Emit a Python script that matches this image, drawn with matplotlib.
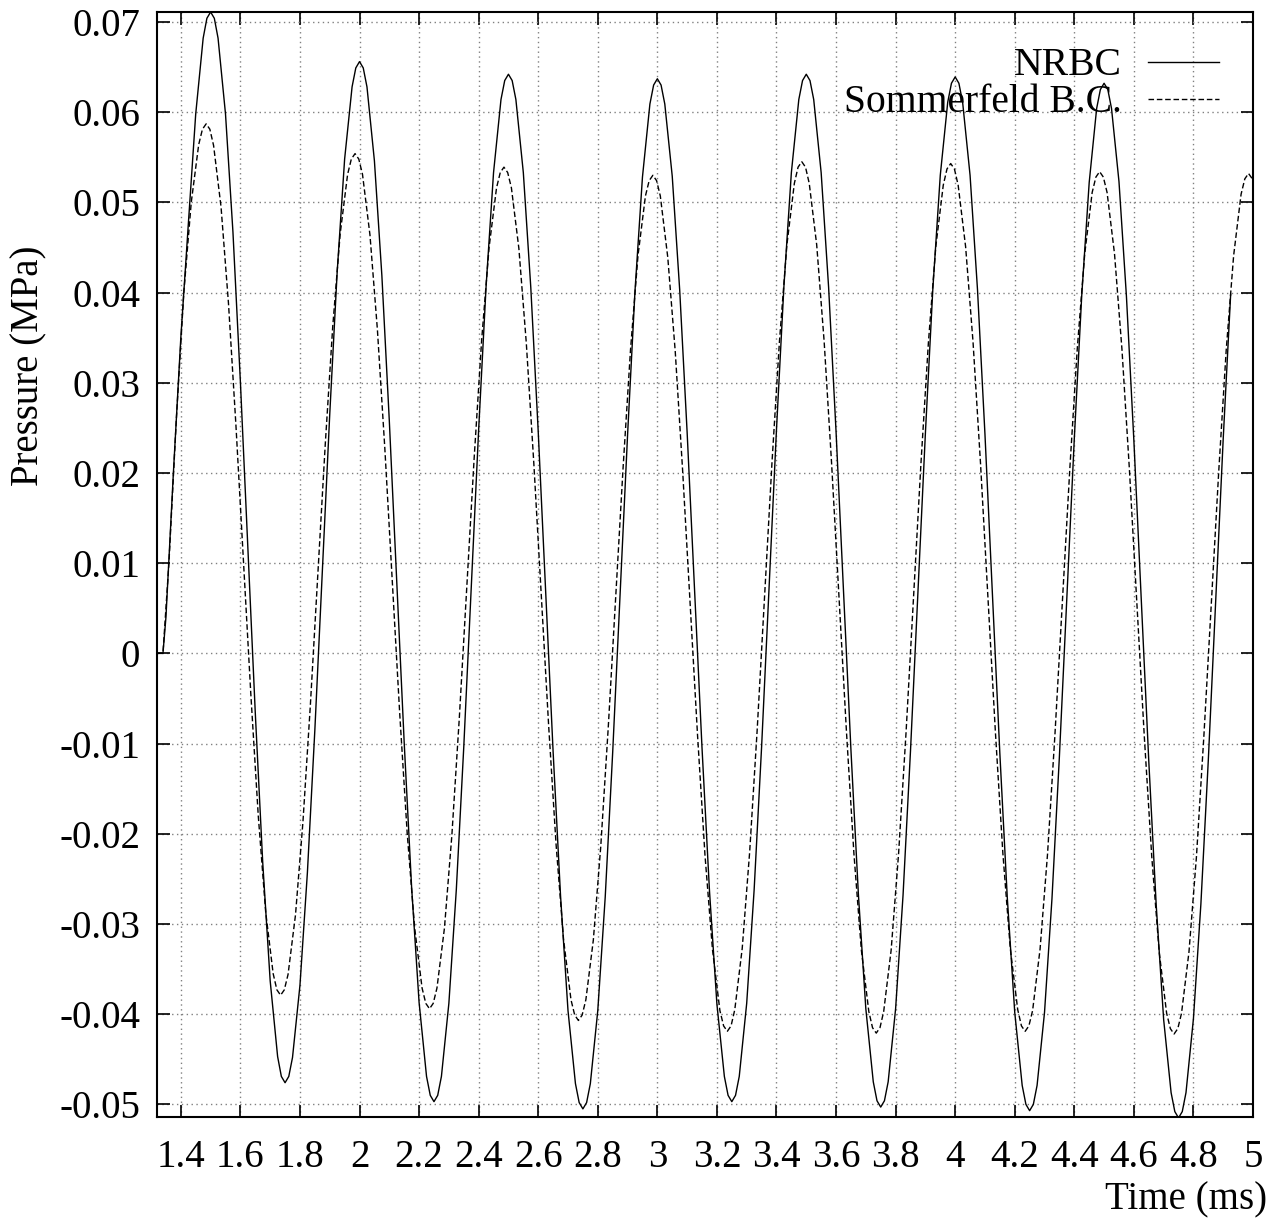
import numpy as np
import matplotlib
matplotlib.use("Agg")
import matplotlib.pyplot as plt

# NRBC pressure (MPa): two start points, then a 0.025 ms grid from 1.35 ms
nrbc_t0 = [1.32, 1.34]
nrbc_p0 = [0.0, 0.0]
nrbc_grid_start = 1.35
nrbc_p = [
    0.0040, 0.0200, 0.0350, 0.0475, 0.0598, 0.0682,
    0.0711,
    0.0682, 0.0598, 0.0467, 0.0301, 0.0118, -0.0066, -0.0232, -0.0363, -0.0447, -0.0476,
    -0.0448, -0.0368, -0.0243, -0.0085, 0.0090, 0.0265, 0.0423, 0.0548, 0.0628, 0.0656,
    0.0628, 0.0546, 0.0419, 0.0258, 0.0080, -0.0099, -0.0260, -0.0387, -0.0469, -0.0497,
    -0.0469, -0.0388, -0.0262, -0.0104, 0.0073, 0.0248, 0.0407, 0.0533, 0.0614, 0.0642,
    0.0614, 0.0533, 0.0406, 0.0246, 0.0069, -0.0109, -0.0269, -0.0396, -0.0477, -0.0505,
    -0.0477, -0.0396, -0.0270, -0.0110, 0.0066, 0.0242, 0.0402, 0.0528, 0.0609, 0.0637,
    0.0609, 0.0529, 0.0403, 0.0245, 0.0070, -0.0105, -0.0263, -0.0389, -0.0469, -0.0497,
    -0.0469, -0.0388, -0.0262, -0.0104, 0.0073, 0.0248, 0.0407, 0.0533, 0.0614, 0.0642,
    0.0614, 0.0533, 0.0406, 0.0246, 0.0070, -0.0107, -0.0267, -0.0394, -0.0475, -0.0503,
    -0.0475, -0.0394, -0.0268, -0.0108, 0.0068, 0.0244, 0.0404, 0.0530, 0.0611, 0.0639,
    0.0611, 0.0530, 0.0403, 0.0243, 0.0066, -0.0111, -0.0271, -0.0398, -0.0479, -0.0507,
    -0.0479, -0.0398, -0.0272, -0.0114, 0.0063, 0.0238, 0.0397, 0.0522, 0.0604, 0.0632,
    0.0604, 0.0523, 0.0396, 0.0236, 0.0059, -0.0119, -0.0279, -0.0406, -0.0487, -0.0515,
    -0.0487, -0.0405, -0.0278, -0.0118, 0.0060, 0.0238, 0.0398,
]
# peaks / troughs of NRBC and the value read half a grid step either side of them
nrbc_ext_t = [1.5, 1.75, 2.0, 2.25, 2.5, 2.75, 3.0, 3.25, 3.5, 3.75, 4.0, 4.25, 4.5, 4.75]
nrbc_shoulder = [0.0704, -0.0469, 0.0649, -0.0490, 0.0635, -0.0498, 0.0630,
                 -0.0490, 0.0635, -0.0496, 0.0632, -0.0500, 0.0625, -0.0508]

# Sommerfeld B.C. pressure (MPa): start points, 0.025 ms grid from 1.36 ms, end point
somm_t0 = [1.32, 1.34]
somm_p0 = [0.0, 0.0]
somm_grid_start = 1.36
somm_p = [
    0.0100, 0.0260, 0.0400, 0.0500, 0.0564,
    0.0587,
    0.0563, 0.0495, 0.0388, 0.0253, 0.0104, -0.0045, -0.0180, -0.0287, -0.0355, -0.0379,
    -0.0356, -0.0290, -0.0187, -0.0057, 0.0088, 0.0232, 0.0362, 0.0465, 0.0531, 0.0554,
    0.0531, 0.0464, 0.0359, 0.0227, 0.0080, -0.0067, -0.0199, -0.0304, -0.0371, -0.0394,
    -0.0371, -0.0305, -0.0202, -0.0072, 0.0073, 0.0217, 0.0347, 0.0450, 0.0516, 0.0539,
    0.0516, 0.0449, 0.0344, 0.0212, 0.0066, -0.0080, -0.0212, -0.0317, -0.0384, -0.0407,
    -0.0384, -0.0318, -0.0214, -0.0083, 0.0062, 0.0206, 0.0337, 0.0441, 0.0507, 0.0530,
    0.0507, 0.0439, 0.0335, 0.0202, 0.0056, -0.0091, -0.0224, -0.0328, -0.0396, -0.0419,
    -0.0395, -0.0327, -0.0220, -0.0086, 0.0063, 0.0212, 0.0346, 0.0453, 0.0521, 0.0545,
    0.0521, 0.0453, 0.0346, 0.0211, 0.0062, -0.0087, -0.0222, -0.0329, -0.0397, -0.0421,
    -0.0397, -0.0329, -0.0222, -0.0088, 0.0061, 0.0210, 0.0344, 0.0451, 0.0519, 0.0543,
    0.0519, 0.0451, 0.0345, 0.0211, 0.0062, -0.0087, -0.0221, -0.0327, -0.0395, -0.0419,
    -0.0396, -0.0328, -0.0223, -0.0090, 0.0058, 0.0205, 0.0338, 0.0443, 0.0511, 0.0534,
    0.0511, 0.0443, 0.0337, 0.0204, 0.0056, -0.0092, -0.0225, -0.0331, -0.0399, -0.0422,
    -0.0399, -0.0331, -0.0226, -0.0092, 0.0055, 0.0202, 0.0336, 0.0441, 0.0509, 0.0532,
]
somm_t1 = [5.0]
somm_p1 = [0.0525]
somm_ext_t = [1.485, 1.735, 1.985, 2.235, 2.485, 2.735, 2.985, 3.235, 3.485, 3.735,
              3.985, 4.235, 4.485, 4.735, 4.985]
somm_shoulder = [0.0581, -0.0373, 0.0548, -0.0388, 0.0533, -0.0401, 0.0524, -0.0413,
                 0.0539, -0.0415, 0.0537, -0.0413, 0.0528, -0.0416, 0.0526]

grid_step = 0.025

xticks = [1.4, 1.6, 1.8, 2.0, 2.2, 2.4, 2.6, 2.8, 3.0, 3.2, 3.4, 3.6, 3.8, 4.0,
          4.2, 4.4, 4.6, 4.8, 5.0]
xtick_labels = ['1.4', '1.6', '1.8', '2', '2.2', '2.4', '2.6', '2.8', '3', '3.2',
                '3.4', '3.6', '3.8', '4', '4.2', '4.4', '4.6', '4.8', '5']
yticks = [-0.05, -0.04, -0.03, -0.02, -0.01, 0.0, 0.01, 0.02, 0.03, 0.04, 0.05,
          0.06, 0.07]
ytick_labels = ['-0.05', '-0.04', '-0.03', '-0.02', '-0.01', '0', '0.01', '0.02',
                '0.03', '0.04', '0.05', '0.06', '0.07']


def build_series(t0, p0, start, vals, ext_t, shoulder, t1=(), p1=()):
    ext_t = np.asarray(ext_t)
    sh = np.asarray(shoulder)
    t = np.concatenate([t0, start + grid_step * np.arange(len(vals)),
                        ext_t - grid_step / 2, ext_t + grid_step / 2, t1])
    p = np.concatenate([p0, vals, sh, sh, p1])
    keep = t <= 5.0
    t, p = t[keep], p[keep]
    order = np.argsort(t, kind='stable')
    return t[order], p[order]


nrbc_t, nrbc_v = build_series(nrbc_t0, nrbc_p0, nrbc_grid_start, nrbc_p,
                              nrbc_ext_t, nrbc_shoulder)
somm_t, somm_v = build_series(somm_t0, somm_p0, somm_grid_start, somm_p,
                              somm_ext_t, somm_shoulder, somm_t1, somm_p1)

plt.rcParams['font.family'] = ['Liberation Serif', 'DejaVu Serif']
plt.rcParams['font.size'] = 28

fig = plt.figure(figsize=(12.87, 12.19), dpi=100)
ax = fig.add_axes([157 / 1287, 1 - 1117 / 1219, (1253 - 157) / 1287, (1117 - 12) / 1219])

ax.plot(nrbc_t, nrbc_v, color='black', lw=1.0, label='NRBC')
ax.plot(somm_t, somm_v, color='black', lw=1.0, linestyle=(0, (4, 2)), label='Sommerfeld B.C.')

ax.set_xlim(1.32, 5.0)
ax.set_ylim(-0.0514, 0.0711)
ax.set_xticks(xticks)
ax.set_xticklabels(xtick_labels)
ax.set_yticks(yticks)
ax.set_yticklabels(ytick_labels)

ax.tick_params(direction='in', length=9, width=1.2, top=True, right=True)
ax.tick_params(axis='x', pad=16)
ax.tick_params(axis='y', pad=12)
for s in ax.spines.values():
    s.set_linewidth(1.5)

ax.grid(True, color='#808080', linestyle=(0, (1, 2.5)), lw=1.0)

ax.set_xlabel('Time (ms)', ha='right', va='baseline')
ax.xaxis.set_label_coords(1.0128, -0.0833)
ax.set_ylabel('Pressure (MPa)', va='center')
ax.yaxis.set_label_coords(-0.117, 0.68)

leg = ax.legend(loc='upper right', bbox_to_anchor=(0.969, 0.968), frameon=False,
                markerfirst=False, borderpad=0, borderaxespad=0, handlelength=1.8,
                handletextpad=0.65, labelspacing=0.0, fontsize=28.5)

fig.savefig('out.png', dpi=100)
